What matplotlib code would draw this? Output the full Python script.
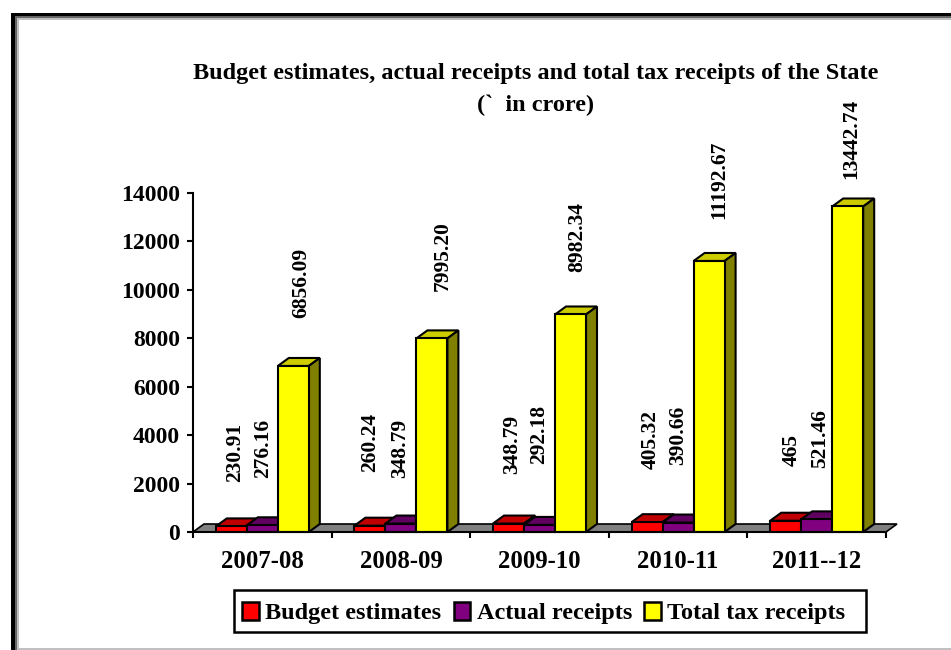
import matplotlib
matplotlib.use("Agg")
import matplotlib.pyplot as plt
from matplotlib.patches import Polygon, Rectangle, Patch

W, H = 951, 650
categories = ["2007-08", "2008-09", "2009-10", "2010-11", "2011--12"]
budget = [230.91, 260.24, 348.79, 405.32, 465]
actual = [276.16, 348.79, 292.18, 390.66, 521.46]
total = [6856.09, 7995.20, 8982.34, 11192.67, 13442.74]
budget_labels = ["230.91", "260.24", "348.79", "405.32", "465"]
actual_labels = ["276.16", "348.79", "292.18", "390.66", "521.46"]
total_labels = ["6856.09", "7995.20", "8982.34", "11192.67", "13442.74"]
series_names = ["Budget estimates", "Actual receipts", "Total tax receipts"]
yticks = list(range(0, 14001, 2000))

# hand-placed label offsets in pixels (dx from bar centre, gap above bar top)
budget_off = [(4, 44), (0, 54), (3.5, 50), (4, 53), (6, 55)]
actual_off = [(1, 47), (-0.5, 46), (-0.5, 61), (0, 58), (3, 51)]
total_off = [(8, 48), (11, 47), (6.5, 42), (10, 42), (4, 27)]

colors = ["#FF0000", "#800080", "#FFFF00"]
top_colors = ["#C00000", "#600060", "#CCCC00"]
side_colors = ["#800000", "#400040", "#808000"]

plt.rcParams["font.family"] = ["Liberation Serif", "DejaVu Serif"]
plt.rcParams["font.weight"] = "bold"

fig = plt.figure(figsize=(W / 100, H / 100), dpi=100, facecolor="white")

def frect(x0, y0, x1, y1, color, z, edge="none", lw=0):
    fig.add_artist(Rectangle((x0 / W, 1 - y1 / H), (x1 - x0) / W, (y1 - y0) / H,
                             transform=fig.transFigure, facecolor=color,
                             edgecolor=edge, lw=lw, zorder=z))

# page frame
frect(11, 13, W + 2, H + 2, "black", -5)
frect(15, 16, W + 2, H + 2, "#666666", -4)
frect(17, 18, W + 2, H + 2, "#C0C0C0", -3)
frect(19, 20, W + 2, 647.5, "white", -2)

AX_L, AX_R, AX_T, AX_B = 193, 886, 193, 532
ax = fig.add_axes([AX_L / W, 1 - AX_B / H, (AX_R - AX_L) / W, (AX_B - AX_T) / H])
ax.set_xlim(0, 5)
ax.set_ylim(0, 14000)
ax.patch.set_alpha(0)

px_x = 5 / (AX_R - AX_L)
px_y = 14000 / (AX_B - AX_T)
depth_x = 11 * px_x
depth_y = 8 * px_y
bar_w = 31 * px_x
lw = 1.5

# gray floor
ax.add_patch(Polygon([(0, 0), (depth_x, depth_y), (5 + depth_x, depth_y), (5, 0)],
                     closed=True, facecolor="#808080", edgecolor="black", lw=1.2,
                     clip_on=False, zorder=1))

all_vals = [budget, actual, total]
all_labels = [budget_labels, actual_labels, total_labels]
all_off = [budget_off, actual_off, total_off]

for i in range(len(categories)):
    for s in range(3):
        x0 = i + 0.5 + (s - 1.5) * bar_w
        v = all_vals[s][i]
        z = 2 + s
        ax.bar(x0, v, bar_w, align="edge", color=colors[s], edgecolor="black",
               lw=lw, zorder=z + 0.5, clip_on=False)
        ax.add_patch(Polygon([(x0, v), (x0 + depth_x, v + depth_y),
                              (x0 + bar_w + depth_x, v + depth_y), (x0 + bar_w, v)],
                             closed=True, facecolor=top_colors[s], edgecolor="black",
                             lw=lw, clip_on=False, zorder=z))
        ax.add_patch(Polygon([(x0 + bar_w, 0), (x0 + bar_w + depth_x, depth_y),
                              (x0 + bar_w + depth_x, v + depth_y), (x0 + bar_w, v)],
                             closed=True, facecolor=side_colors[s], edgecolor="black",
                             lw=lw, clip_on=False, zorder=z))
        dx, gap = all_off[s][i]
        ax.annotate(all_labels[s][i], xy=(x0 + bar_w / 2, v),
                    xytext=(dx * 0.72, gap * 0.72), textcoords="offset points",
                    rotation=90, ha="center", va="bottom", fontsize=15.5,
                    fontweight="bold", color="black", zorder=10, annotation_clip=False)

for sp in ("top", "right"):
    ax.spines[sp].set_visible(False)
for sp in ("left", "bottom"):
    ax.spines[sp].set_linewidth(1.5)
    ax.spines[sp].set_zorder(9)

ax.set_yticks(yticks)
ax.set_yticklabels([str(t) for t in yticks], fontsize=17, fontweight="bold")
ax.set_xticks(range(6))
ax.set_xticklabels([""] * 6)
ax.tick_params(axis="both", length=4.5, width=1.5, color="black")
ax.tick_params(axis="y", pad=5)
for i, c in enumerate(categories):
    ax.annotate(c, xy=(i + 0.5, 0), xytext=(0, -21), textcoords="offset points",
                ha="center", va="center", fontsize=17.8, fontweight="bold")

fig.text(536 / W, 1 - 73 / H, "Budget estimates, actual receipts and total tax receipts of the State",
         ha="center", va="center", fontsize=17.5, fontweight="bold")
fig.text(536 / W, 1 - 105 / H, "(`  in crore)", ha="center", va="center",
         fontsize=17.5, fontweight="bold")

frect(234, 590, 866, 632, "white", 1, edge="black", lw=1.8)
handles = [Patch(facecolor=c, edgecolor="black", lw=1.8) for c in colors]
leg = fig.legend(handles, series_names, loc="center", bbox_to_anchor=(544 / W, 1 - 613 / H),
                 bbox_transform=fig.transFigure, ncol=3, fontsize=17.5, frameon=False,
                 handlelength=0.68, handleheight=0.8, handletextpad=0.27, columnspacing=0.5,
                 borderpad=0, borderaxespad=0)
leg.set_zorder(2)

fig.savefig("out.png", dpi=100)
